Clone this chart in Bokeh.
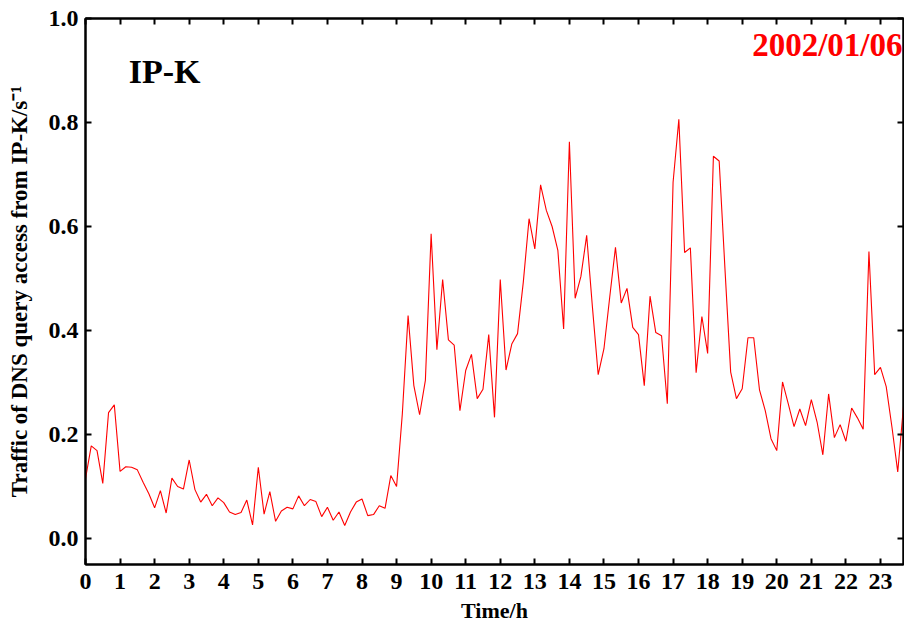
from bokeh.plotting import figure
from bokeh.models import LinearAxis, FixedTicker, Label, Range1d, ColumnDataSource
from bokeh.embed import file_html
from bokeh.resources import INLINE

# DNS query traffic from IP-K, sampled every 10 minutes on 2002/01/06
traffic = [
    0.115, 0.178, 0.169, 0.106, 0.242, 0.257, 0.129, 0.138, 0.137, 0.132,
    0.108, 0.086, 0.059, 0.092, 0.049, 0.116, 0.100, 0.095, 0.151, 0.094,
    0.070, 0.085, 0.063, 0.078, 0.069, 0.051, 0.046, 0.050, 0.074, 0.026,
    0.137, 0.047, 0.090, 0.033, 0.053, 0.060, 0.057, 0.082, 0.063, 0.075,
    0.071, 0.042, 0.060, 0.035, 0.051, 0.025, 0.051, 0.070, 0.076, 0.044,
    0.046, 0.063, 0.058, 0.121, 0.100, 0.240, 0.429, 0.294, 0.238, 0.304,
    0.586, 0.363, 0.498, 0.382, 0.372, 0.246, 0.323, 0.354, 0.269, 0.287,
    0.392, 0.233, 0.498, 0.324, 0.374, 0.394, 0.493, 0.615, 0.557, 0.680,
    0.631, 0.600, 0.554, 0.403, 0.763, 0.462, 0.504, 0.583, 0.445, 0.315,
    0.365, 0.464, 0.560, 0.453, 0.481, 0.406, 0.392, 0.294, 0.466, 0.396,
    0.390, 0.259, 0.685, 0.806, 0.550, 0.559, 0.319, 0.427, 0.356, 0.735,
    0.726, 0.520, 0.320, 0.269, 0.288, 0.386, 0.386, 0.286, 0.246, 0.192,
    0.169, 0.301, 0.259, 0.215, 0.249, 0.217, 0.267, 0.224, 0.161, 0.278,
    0.194, 0.219, 0.187, 0.251, 0.232, 0.210, 0.552, 0.315, 0.329, 0.292,
    0.214, 0.128, 0.254,
]
sample_minutes = 10
hours = [i * sample_minutes / 60 for i in range(len(traffic))]

x_ticks = list(range(24))
x_tick_labels = [str(h) for h in x_ticks]
y_ticks = [0.0, 0.2, 0.4, 0.6, 0.8, 1.0]
y_tick_labels = ["0.0", "0.2", "0.4", "0.6", "0.8", "1.0"]

series_name = "IP-K"
date_text = "2002/01/06"

FONT = "Liberation Serif"

p = figure(
    width=904, height=630,
    x_range=Range1d(0, hours[-1]), y_range=Range1d(-0.05, 1.0),
    output_backend="svg", toolbar_location=None,
    min_border_left=85, min_border_right=1, min_border_top=18, min_border_bottom=66,
)
p.grid.visible = False
p.outline_line_color = "black"
p.outline_line_width = 2
p.background_fill_color = "white"
p.border_fill_color = "white"

src = ColumnDataSource(data=dict(t=hours, v=traffic))
p.line("t", "v", source=src, line_color="#ff0000", line_width=1.1)


def style_axis(ax, show_labels):
    ax.axis_line_color = "black"
    ax.axis_line_width = 2
    ax.major_tick_in = 6
    ax.major_tick_out = 0
    ax.major_tick_line_width = 2
    ax.major_tick_line_color = "black"
    ax.minor_tick_line_color = None
    ax.major_label_text_font = FONT
    ax.major_label_text_font_style = "bold"
    if show_labels:
        ax.major_label_text_color = "black"
        ax.major_label_text_font_size = "24px"
    else:
        ax.major_label_text_color = None
        ax.major_label_text_font_size = "1px"
        ax.major_label_standoff = 0


xa = p.xaxis[0]
xa.ticker = FixedTicker(ticks=x_ticks)
xa.major_label_overrides = dict(zip(x_ticks, x_tick_labels))
style_axis(xa, True)
xa.major_label_standoff = 9
xa.axis_label = "Time/h"
xa.axis_label_text_font = FONT
xa.axis_label_text_font_style = "bold"
xa.axis_label_text_font_size = "22px"
xa.axis_label_text_color = "black"
xa.axis_label_standoff = 6

ya = p.yaxis[0]
ya.ticker = FixedTicker(ticks=y_ticks)
ya.major_label_overrides = dict(zip(y_ticks, y_tick_labels))
style_axis(ya, True)
ya.major_label_standoff = 7
ya.axis_label = "Traffic of DNS query access from IP-K/s\u207b\u00b9"
ya.axis_label_text_font = FONT
ya.axis_label_text_font_style = "bold"
ya.axis_label_text_font_size = "23px"
ya.axis_label_text_color = "black"
ya.axis_label_standoff = 14

top = LinearAxis(ticker=FixedTicker(ticks=x_ticks))
style_axis(top, False)
p.add_layout(top, "above")

right = LinearAxis(ticker=FixedTicker(ticks=y_ticks))
style_axis(right, False)
p.add_layout(right, "right")

p.add_layout(Label(x=1.25, y=0.898, text=series_name, text_font=FONT,
                   text_font_style="bold", text_font_size="34px",
                   text_color="black", text_baseline="alphabetic"))
p.add_layout(Label(x=hours[-1], y=0.950, text=date_text, text_font=FONT,
                   text_font_style="bold", text_font_size="33px",
                   text_color="#ff0000", text_align="right",
                   text_baseline="alphabetic", x_offset=-1))

open("out.html", "w").write(file_html(p, INLINE))
